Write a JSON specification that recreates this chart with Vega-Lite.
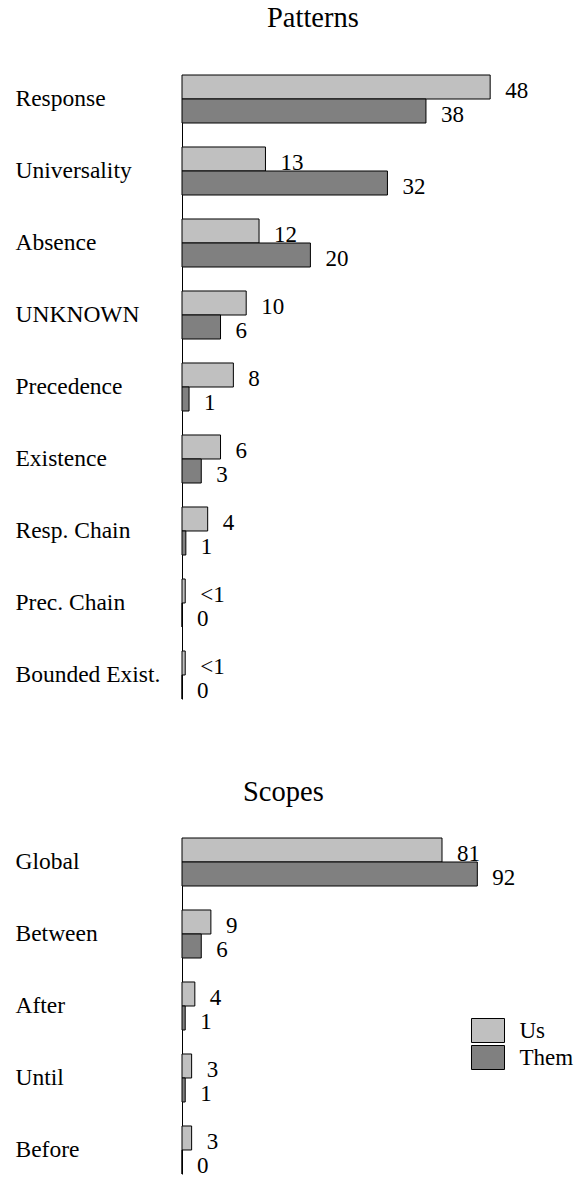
{
  "$schema": "https://vega.github.io/schema/vega-lite/v6.json",
  "padding": {"left": 15, "top": 4, "right": 5, "bottom": 5},
  "config": {
    "view": {"stroke": null},
    "font": "Liberation Serif",
    "concat": {"spacing": 75},
    "axis": {"title": null, "domain": true, "domainColor": "black", "domainWidth": 1, "ticks": false, "tickSize": 0, "labelAlign": "left", "labelPadding": 167, "labelFontSize": 23.5, "labelFont": "Liberation Serif", "labelColor": "black", "labelBaseline": "middle", "grid": false, "labelLimit": 200},
    "title": {"font": "Liberation Serif", "fontSize": 28.5, "fontWeight": "normal", "color": "black", "anchor": "start", "frame": "group", "baseline": "alphabetic"}
  },
  "datasets": {
    "patterns": [
      {"category": "Response", "series": "Us", "value": 48, "label": "48"},
      {"category": "Response", "series": "Them", "value": 38, "label": "38"},
      {"category": "Universality", "series": "Us", "value": 13, "label": "13"},
      {"category": "Universality", "series": "Them", "value": 32, "label": "32"},
      {"category": "Absence", "series": "Us", "value": 12, "label": "12"},
      {"category": "Absence", "series": "Them", "value": 20, "label": "20"},
      {"category": "UNKNOWN", "series": "Us", "value": 10, "label": "10"},
      {"category": "UNKNOWN", "series": "Them", "value": 6, "label": "6"},
      {"category": "Precedence", "series": "Us", "value": 8, "label": "8"},
      {"category": "Precedence", "series": "Them", "value": 1.1, "label": "1"},
      {"category": "Existence", "series": "Us", "value": 6, "label": "6"},
      {"category": "Existence", "series": "Them", "value": 3, "label": "3"},
      {"category": "Resp. Chain", "series": "Us", "value": 4, "label": "4"},
      {"category": "Resp. Chain", "series": "Them", "value": 0.6, "label": "1"},
      {"category": "Prec. Chain", "series": "Us", "value": 0.5, "label": "<1"},
      {"category": "Prec. Chain", "series": "Them", "value": 0, "label": "0"},
      {"category": "Bounded Exist.", "series": "Us", "value": 0.5, "label": "<1"},
      {"category": "Bounded Exist.", "series": "Them", "value": 0, "label": "0"}
    ],
    "scopes": [
      {"category": "Global", "series": "Us", "value": 81, "label": "81"},
      {"category": "Global", "series": "Them", "value": 92, "label": "92"},
      {"category": "Between", "series": "Us", "value": 9, "label": "9"},
      {"category": "Between", "series": "Them", "value": 6, "label": "6"},
      {"category": "After", "series": "Us", "value": 4, "label": "4"},
      {"category": "After", "series": "Them", "value": 1, "label": "1"},
      {"category": "Until", "series": "Us", "value": 3, "label": "3"},
      {"category": "Until", "series": "Them", "value": 1, "label": "1"},
      {"category": "Before", "series": "Us", "value": 3, "label": "3"},
      {"category": "Before", "series": "Them", "value": 0, "label": "0"}
    ]
  },
  "vconcat": [
    {
      "title": {"text": "Patterns", "dx": 85, "offset": 42},
      "width": 321,
      "height": 624,
      "data": {"name": "patterns"},
      "encoding": {
        "y": {"field": "category", "type": "nominal", "sort": null, "scale": {"paddingInner": 0.33333, "paddingOuter": 0}},
        "yOffset": {"field": "series", "type": "nominal", "sort": ["Us", "Them"], "scale": {"paddingInner": 0, "paddingOuter": 0}},
        "x": {"field": "value", "type": "quantitative", "scale": {"domain": [0, 50]}, "axis": null}
      },
      "layer": [
        {
          "mark": {"type": "bar", "stroke": "black", "strokeWidth": 1, "opacity": 1},
          "encoding": {
            "color": {"field": "series", "type": "nominal", "scale": {"domain": ["Us", "Them"], "range": ["#c0c0c0", "#808080"]},
              "legend": {"orient": "none", "legendX": 293.5, "legendY": 943, "title": null, "symbolType": "M-1.375,-1H1.375V1H-1.375Z", "symbolSize": 576, "symbolStrokeColor": "black", "symbolStrokeWidth": 1, "symbolOpacity": 1, "labelFontSize": 23, "labelFont": "Liberation Serif", "labelColor": "black", "labelOffset": 19, "rowPadding": -9, "padding": 0}}
          }
        },
        {
          "mark": {"type": "text", "align": "left", "baseline": "middle", "dx": 15, "dy": 4, "fontSize": 23, "color": "black"},
          "encoding": {"text": {"field": "label"}}
        }
      ]
    },
    {
      "title": {"text": "Scopes", "dx": 61, "offset": 31},
      "width": 321,
      "height": 336,
      "data": {"name": "scopes"},
      "encoding": {
        "y": {"field": "category", "type": "nominal", "sort": null, "scale": {"paddingInner": 0.33333, "paddingOuter": 0}},
        "yOffset": {"field": "series", "type": "nominal", "sort": ["Us", "Them"], "scale": {"paddingInner": 0, "paddingOuter": 0}},
        "x": {"field": "value", "type": "quantitative", "scale": {"domain": [0, 100]}, "axis": null}
      },
      "layer": [
        {
          "mark": {"type": "bar", "stroke": "black", "strokeWidth": 1, "opacity": 1},
          "encoding": {
            "color": {"field": "series", "type": "nominal", "scale": {"domain": ["Us", "Them"], "range": ["#c0c0c0", "#808080"]},
              "legend": {"orient": "none", "legendX": 293.5, "legendY": 943, "title": null, "symbolType": "M-1.375,-1H1.375V1H-1.375Z", "symbolSize": 576, "symbolStrokeColor": "black", "symbolStrokeWidth": 1, "symbolOpacity": 1, "labelFontSize": 23, "labelFont": "Liberation Serif", "labelColor": "black", "labelOffset": 19, "rowPadding": -9, "padding": 0}}
          }
        },
        {
          "mark": {"type": "text", "align": "left", "baseline": "middle", "dx": 15, "dy": 4, "fontSize": 23, "color": "black"},
          "encoding": {"text": {"field": "label"}}
        }
      ]
    }
  ]
}
